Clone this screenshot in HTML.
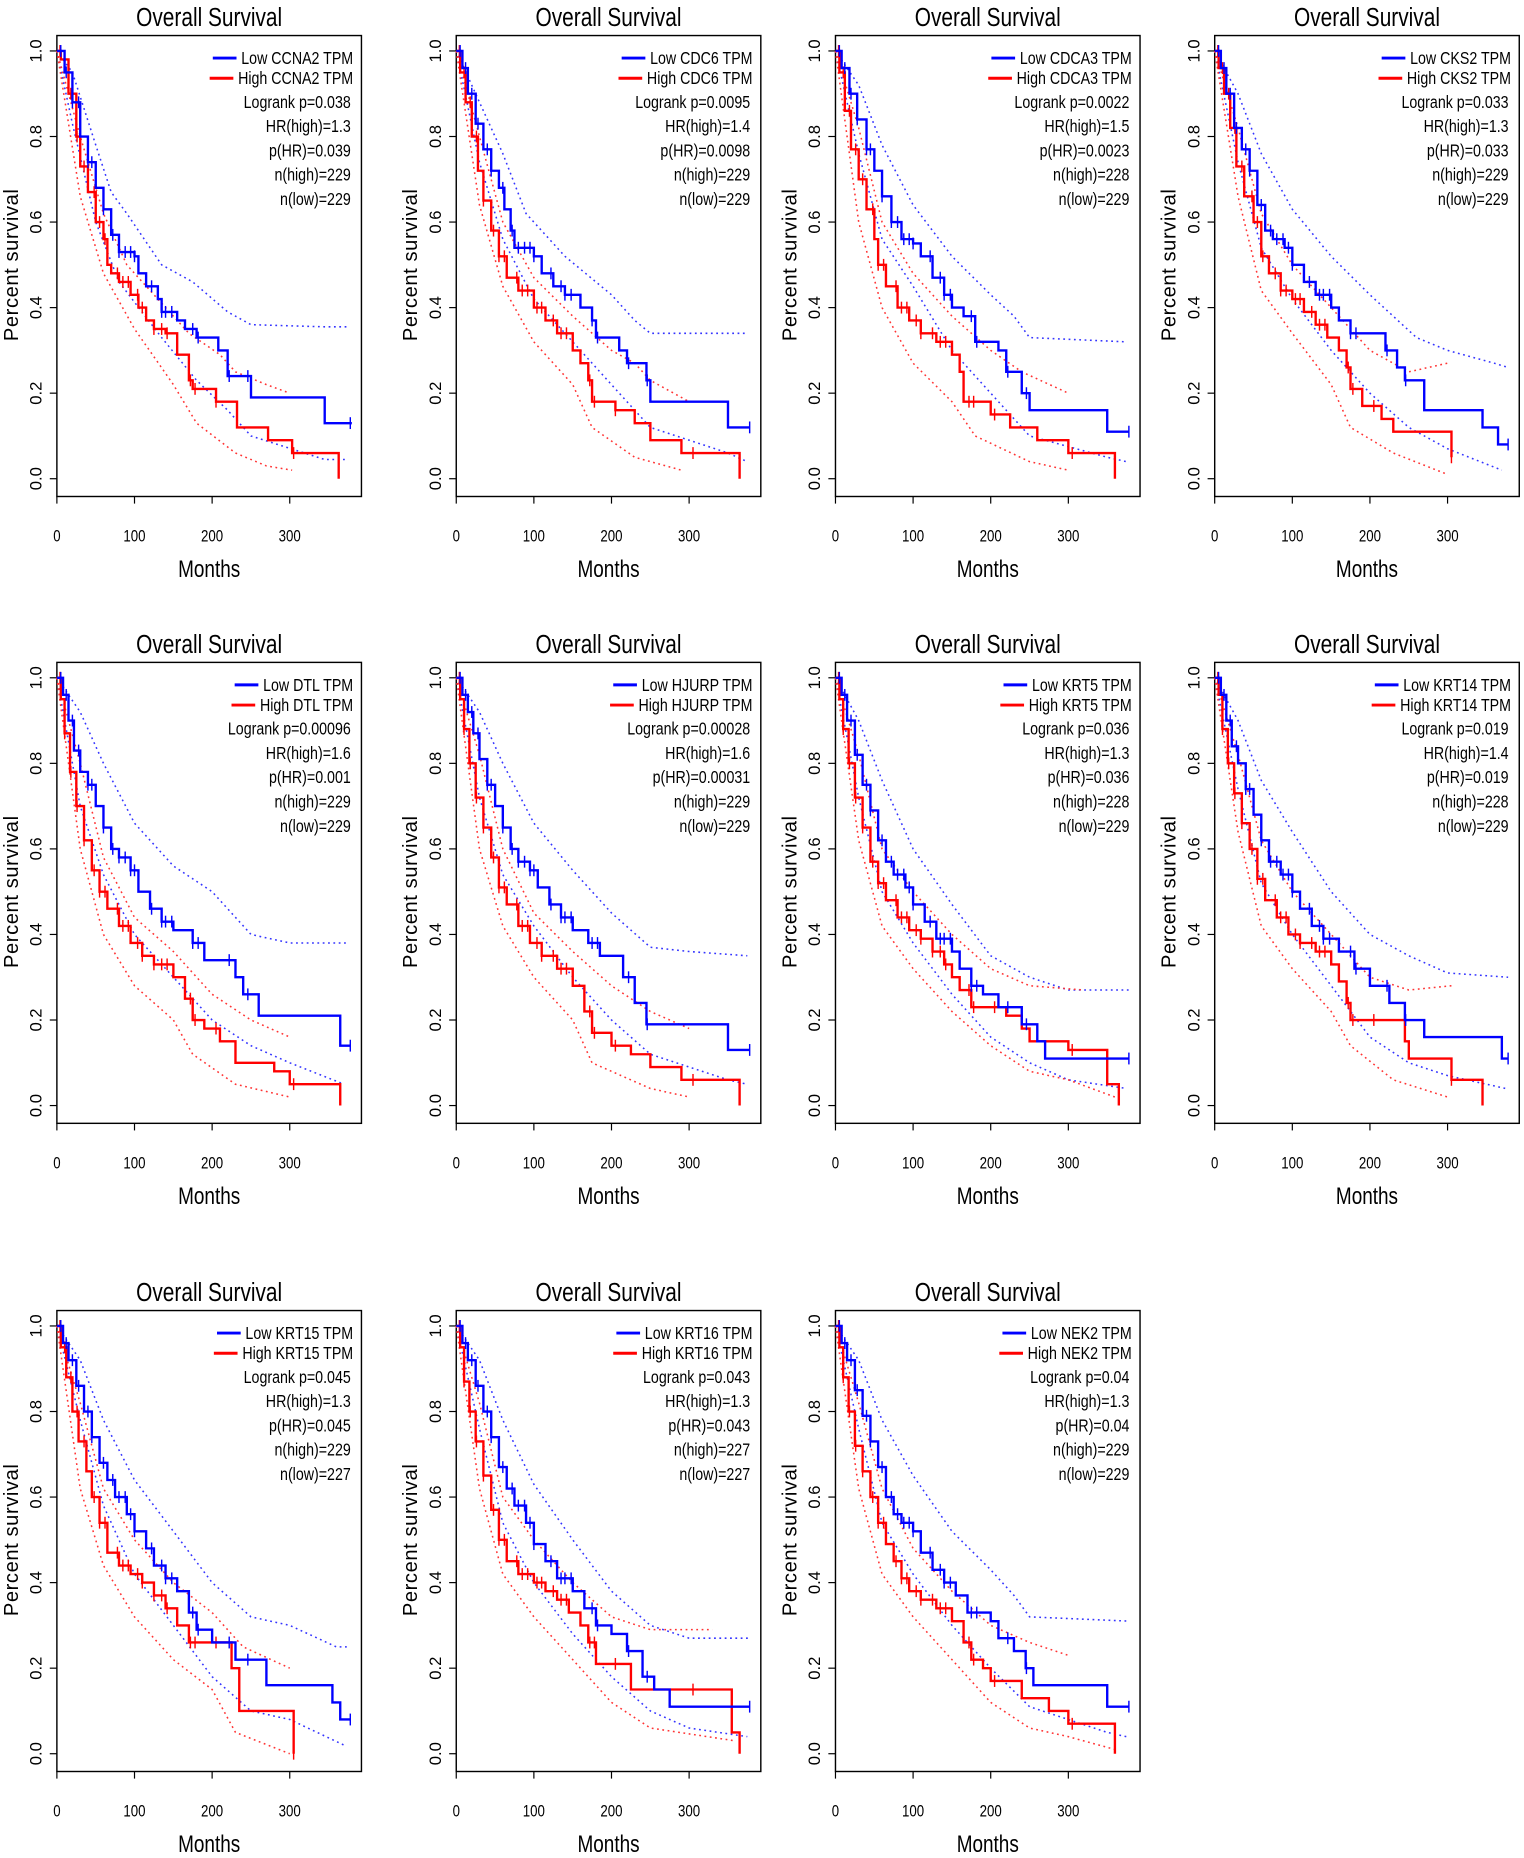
<!DOCTYPE html>
<html><head><meta charset="utf-8">
<style>
html,body{margin:0;padding:0;background:#fff;}
svg{display:block;}
text{font-family:"Liberation Sans Narrow","Liberation Sans",sans-serif;fill:#000;}
</style></head>
<body>
<svg id="fig" width="1524" height="1858" viewBox="0 0 1286 1568" preserveAspectRatio="none" xmlns="http://www.w3.org/2000/svg"></svg>
<script>
// ---- data ----
const genes = ["CCNA2","CDC6","CDCA3","CKS2","DTL","HJURP","KRT5","KRT14","KRT15","KRT16","NEK2"];
const logrankP = ["0.038","0.0095","0.0022","0.033","0.00096","0.00028","0.036","0.019","0.045","0.043","0.04"];
const hrHigh = ["1.3","1.4","1.5","1.3","1.6","1.6","1.3","1.4","1.3","1.3","1.3"];
const pHR = ["0.039","0.0098","0.0023","0.033","0.001","0.00031","0.036","0.019","0.045","0.043","0.04"];
const nHigh = ["229","229","228","229","229","229","228","228","229","227","229"];
const nLow = ["229","229","229","229","229","229","229","229","227","227","229"];
const xTicks = [0,100,200,300];
const yTicks = [0,0.2,0.4,0.6,0.8,1.0];
const censorLow = [5,12,20,28,40,45,60,72,80,88,95,100,122,135,140,148,175,182,222,246,378];
const censorHigh = [4,10,18,26,35,48,55,62,78,85,92,104,110,125,135,142,172,178,205,305];

const lowCurves = [
[[0,1],[10,0.95],[20,0.88],[30,0.8],[40,0.74],[50,0.68],[60,0.63],[70,0.57],[80,0.53],[100,0.52],[105,0.48],[115,0.45],[130,0.42],[135,0.39],[155,0.37],[165,0.35],[180,0.33],[208,0.3],[220,0.24],[250,0.19],[345,0.13],[380,0.13]],
[[0,1],[8,0.96],[15,0.9],[25,0.83],[35,0.77],[45,0.72],[55,0.68],[62,0.63],[70,0.58],[75,0.54],[100,0.52],[110,0.48],[125,0.45],[140,0.43],[160,0.4],[175,0.37],[180,0.33],[210,0.3],[220,0.27],[245,0.23],[250,0.18],[350,0.12],[378,0.12]],
[[0,1],[8,0.96],[18,0.9],[28,0.84],[40,0.77],[50,0.72],[60,0.66],[72,0.6],[85,0.56],[100,0.55],[110,0.52],[125,0.47],[140,0.43],[150,0.4],[165,0.38],[180,0.32],[210,0.3],[220,0.25],[240,0.2],[250,0.16],[350,0.11],[378,0.11]],
[[0,1],[8,0.96],[15,0.9],[25,0.82],[35,0.77],[45,0.72],[55,0.64],[65,0.58],[75,0.56],[90,0.54],[100,0.5],[115,0.46],[130,0.43],[150,0.4],[160,0.37],[175,0.34],[220,0.3],[235,0.26],[245,0.23],[270,0.16],[345,0.12],[365,0.08],[378,0.08]],
[[0,1],[8,0.96],[15,0.9],[22,0.83],[30,0.78],[40,0.75],[50,0.7],[60,0.65],[70,0.6],[80,0.58],[95,0.55],[105,0.5],[120,0.46],[135,0.43],[150,0.41],[175,0.38],[190,0.34],[230,0.3],[240,0.26],[260,0.21],[365,0.14],[378,0.14]],
[[0,1],[8,0.96],[15,0.92],[22,0.87],[30,0.81],[40,0.75],[50,0.7],[60,0.65],[70,0.6],[80,0.57],[95,0.55],[105,0.51],[120,0.47],[135,0.44],[150,0.41],[170,0.38],[185,0.35],[215,0.3],[230,0.24],[245,0.19],[350,0.13],[378,0.13]],
[[0,1],[8,0.96],[15,0.9],[25,0.82],[35,0.75],[45,0.69],[55,0.62],[65,0.57],[75,0.54],[90,0.51],[100,0.47],[115,0.43],[130,0.39],[150,0.36],[160,0.32],[175,0.28],[190,0.26],[210,0.23],[240,0.19],[260,0.15],[270,0.11],[378,0.11]],
[[0,1],[8,0.96],[15,0.9],[22,0.84],[30,0.8],[40,0.74],[50,0.68],[60,0.62],[70,0.57],[85,0.54],[100,0.5],[110,0.46],[125,0.42],[140,0.39],[160,0.36],[180,0.32],[200,0.28],[225,0.24],[245,0.2],[270,0.16],[370,0.11],[378,0.11]],
[[0,1],[8,0.96],[15,0.92],[25,0.86],[35,0.8],[45,0.74],[55,0.68],[65,0.64],[75,0.6],[90,0.56],[100,0.52],[115,0.48],[125,0.44],[140,0.41],[155,0.38],[170,0.33],[180,0.29],[200,0.26],[230,0.22],[270,0.16],[355,0.12],[365,0.08],[378,0.08]],
[[0,1],[8,0.96],[15,0.92],[25,0.86],[35,0.8],[45,0.74],[55,0.67],[65,0.62],[75,0.58],[90,0.54],[100,0.49],[115,0.45],[130,0.41],[150,0.38],[165,0.34],[180,0.3],[200,0.28],[220,0.24],[240,0.18],[255,0.15],[275,0.11],[378,0.11]],
[[0,1],[8,0.96],[15,0.92],[25,0.85],[35,0.79],[45,0.73],[55,0.67],[65,0.6],[75,0.56],[85,0.54],[100,0.52],[110,0.47],[125,0.43],[140,0.4],[155,0.37],[170,0.33],[200,0.31],[210,0.27],[230,0.24],[245,0.2],[255,0.16],[350,0.11],[378,0.11]]
];
const highCurves = [
[[0,1],[5,0.98],[15,0.9],[25,0.8],[30,0.73],[40,0.67],[50,0.6],[60,0.56],[65,0.5],[70,0.48],[80,0.46],[95,0.43],[105,0.4],[115,0.37],[125,0.35],[140,0.34],[155,0.29],[170,0.23],[175,0.21],[205,0.18],[232,0.12],[272,0.09],[303,0.06],[363,0]],
[[0,1],[5,0.95],[12,0.88],[20,0.8],[28,0.72],[35,0.65],[45,0.58],[55,0.52],[65,0.47],[80,0.44],[100,0.4],[115,0.37],[130,0.34],[150,0.3],[160,0.27],[170,0.23],[175,0.18],[205,0.16],[230,0.13],[250,0.09],[290,0.06],[365,0]],
[[0,1],[5,0.95],[12,0.86],[20,0.77],[30,0.7],[40,0.63],[50,0.56],[55,0.5],[65,0.45],[80,0.4],[95,0.37],[110,0.34],[130,0.32],[150,0.29],[160,0.25],[165,0.18],[200,0.15],[225,0.12],[260,0.09],[300,0.06],[360,0]],
[[0,1],[5,0.96],[12,0.9],[20,0.82],[28,0.73],[38,0.66],[50,0.6],[60,0.52],[70,0.48],[85,0.44],[100,0.42],[115,0.39],[130,0.36],[145,0.33],[160,0.3],[170,0.26],[175,0.21],[190,0.17],[215,0.14],[230,0.11],[305,0.05]],
[[0,1],[5,0.95],[10,0.87],[17,0.78],[25,0.7],[35,0.62],[45,0.55],[55,0.5],[65,0.46],[80,0.42],[95,0.38],[110,0.35],[125,0.33],[150,0.3],[165,0.25],[175,0.2],[190,0.18],[210,0.15],[230,0.1],[280,0.08],[300,0.05],[365,0]],
[[0,1],[5,0.95],[10,0.88],[17,0.8],[25,0.72],[35,0.65],[45,0.58],[55,0.51],[65,0.47],[80,0.42],[95,0.38],[110,0.35],[130,0.32],[150,0.28],[165,0.22],[175,0.17],[200,0.14],[225,0.12],[250,0.09],[290,0.06],[365,0]],
[[0,1],[5,0.95],[10,0.88],[17,0.8],[25,0.72],[35,0.65],[45,0.57],[55,0.52],[65,0.48],[80,0.44],[95,0.41],[110,0.39],[125,0.36],[140,0.33],[150,0.3],[160,0.27],[175,0.23],[220,0.21],[240,0.18],[250,0.15],[300,0.13],[350,0.05],[365,0]],
[[0,1],[5,0.96],[10,0.88],[17,0.8],[25,0.73],[35,0.66],[45,0.6],[55,0.53],[65,0.48],[80,0.44],[95,0.4],[110,0.38],[130,0.36],[150,0.33],[160,0.29],[170,0.24],[175,0.2],[245,0.15],[250,0.11],[305,0.06],[345,0]],
[[0,1],[5,0.95],[12,0.88],[20,0.8],[28,0.73],[38,0.66],[45,0.6],[55,0.54],[65,0.47],[80,0.44],[95,0.42],[110,0.4],[125,0.37],[140,0.34],[155,0.3],[170,0.26],[210,0.26],[225,0.2],[235,0.1],[305,0]],
[[0,1],[5,0.95],[10,0.87],[17,0.8],[25,0.73],[35,0.65],[45,0.57],[55,0.5],[65,0.45],[80,0.42],[100,0.4],[115,0.38],[130,0.36],[145,0.33],[160,0.3],[170,0.26],[180,0.21],[225,0.15],[300,0.15],[355,0.05],[365,0]],
[[0,1],[5,0.95],[10,0.88],[17,0.8],[25,0.72],[35,0.66],[45,0.6],[55,0.54],[65,0.49],[75,0.45],[85,0.41],[95,0.38],[110,0.36],[130,0.34],[150,0.31],[165,0.26],[175,0.22],[190,0.2],[200,0.17],[240,0.13],[275,0.1],[300,0.07],[360,0]]
];
const lowUpper = [
[[0,1],[20,0.95],[50,0.78],[70,0.67],[90,0.62],[105,0.58],[135,0.5],[175,0.46],[220,0.39],[250,0.36],[345,0.355],[375,0.355]],
[[0,1],[30,0.88],[60,0.76],[90,0.62],[140,0.52],[200,0.43],[230,0.37],[250,0.34],[375,0.34]],
[[0,1],[30,0.92],[60,0.78],[100,0.64],[150,0.52],[200,0.43],[230,0.38],[250,0.33],[375,0.32]],
[[0,1],[30,0.9],[60,0.76],[100,0.63],[150,0.52],[200,0.43],[260,0.33],[300,0.3],[360,0.27],[378,0.26]],
[[0,1],[30,0.92],[60,0.8],[100,0.66],[150,0.56],[200,0.5],[250,0.4],[300,0.38],[375,0.38]],
[[0,1],[30,0.92],[60,0.8],[100,0.66],[150,0.55],[200,0.45],[250,0.37],[300,0.36],[375,0.35]],
[[0,1],[30,0.9],[60,0.76],[100,0.6],[150,0.47],[200,0.35],[250,0.3],[300,0.27],[378,0.27]],
[[0,1],[30,0.9],[60,0.76],[100,0.64],[150,0.5],[200,0.4],[250,0.35],[300,0.31],[378,0.3]],
[[0,1],[30,0.92],[60,0.78],[100,0.64],[150,0.52],[200,0.4],[250,0.32],[300,0.3],[360,0.25],[375,0.25]],
[[0,1],[30,0.92],[60,0.78],[100,0.63],[150,0.5],[200,0.38],[250,0.3],[300,0.27],[378,0.27]],
[[0,1],[30,0.92],[60,0.78],[100,0.65],[150,0.52],[200,0.43],[230,0.37],[250,0.32],[378,0.31]]
];
const lowLower = [
[[0,1],[20,0.83],[50,0.6],[80,0.46],[135,0.33],[180,0.23],[220,0.16],[250,0.1],[345,0.045],[375,0.045]],
[[0,1],[30,0.74],[60,0.56],[100,0.42],[150,0.32],[200,0.22],[250,0.12],[350,0.06],[375,0.04]],
[[0,1],[30,0.76],[60,0.56],[100,0.45],[150,0.3],[200,0.2],[250,0.1],[350,0.05],[375,0.04]],
[[0,1],[30,0.74],[60,0.54],[100,0.42],[150,0.3],[200,0.2],[250,0.12],[300,0.07],[370,0.02]],
[[0,1],[30,0.7],[60,0.54],[100,0.4],[150,0.3],[200,0.2],[250,0.14],[300,0.1],[370,0.05]],
[[0,1],[30,0.72],[60,0.54],[100,0.42],[150,0.3],[200,0.2],[250,0.12],[350,0.06],[375,0.05]],
[[0,1],[30,0.72],[60,0.5],[100,0.38],[150,0.26],[200,0.16],[250,0.1],[300,0.06],[375,0.04]],
[[0,1],[30,0.74],[60,0.52],[100,0.4],[150,0.28],[200,0.16],[250,0.1],[300,0.07],[375,0.04]],
[[0,1],[30,0.78],[60,0.58],[100,0.42],[150,0.3],[200,0.18],[250,0.1],[300,0.08],[370,0.02]],
[[0,1],[30,0.76],[60,0.54],[100,0.4],[150,0.28],[200,0.18],[250,0.1],[300,0.06],[375,0.04]],
[[0,1],[30,0.76],[60,0.54],[100,0.42],[150,0.3],[200,0.2],[250,0.11],[350,0.05],[375,0.04]]
];
const highUpper = [
[[0,1],[30,0.8],[60,0.62],[90,0.5],[130,0.42],[170,0.34],[210,0.29],[230,0.25],[270,0.22],[300,0.2]],
[[0,1],[30,0.8],[60,0.6],[100,0.47],[150,0.38],[200,0.3],[230,0.27],[250,0.23],[300,0.18]],
[[0,1],[30,0.82],[60,0.6],[100,0.48],[150,0.38],[200,0.3],[240,0.25],[300,0.2]],
[[0,1],[30,0.82],[60,0.62],[100,0.5],[150,0.4],[200,0.3],[250,0.25],[300,0.27]],
[[0,1],[30,0.8],[60,0.58],[100,0.44],[150,0.36],[200,0.26],[250,0.2],[300,0.16]],
[[0,1],[30,0.82],[60,0.6],[100,0.45],[150,0.36],[200,0.28],[250,0.22],[300,0.18]],
[[0,1],[30,0.82],[60,0.6],[100,0.5],[150,0.4],[200,0.32],[250,0.28],[320,0.27]],
[[0,1],[30,0.82],[60,0.62],[100,0.5],[150,0.4],[200,0.3],[250,0.27],[305,0.28]],
[[0,1],[30,0.82],[60,0.62],[100,0.5],[150,0.4],[200,0.33],[240,0.25],[300,0.2]],
[[0,1],[30,0.82],[60,0.6],[100,0.5],[150,0.4],[200,0.32],[250,0.29],[330,0.29]],
[[0,1],[30,0.82],[60,0.62],[100,0.48],[150,0.38],[200,0.3],[250,0.26],[300,0.23]]
];
const highLower = [
[[0,1],[30,0.66],[60,0.48],[100,0.35],[150,0.22],[180,0.13],[230,0.06],[270,0.03],[303,0.02]],
[[0,1],[30,0.64],[60,0.45],[100,0.32],[150,0.22],[175,0.12],[230,0.05],[290,0.02]],
[[0,1],[30,0.6],[60,0.4],[100,0.27],[150,0.18],[180,0.1],[250,0.04],[300,0.02]],
[[0,1],[30,0.66],[60,0.44],[100,0.34],[150,0.22],[175,0.12],[230,0.06],[300,0.01]],
[[0,1],[30,0.6],[60,0.4],[100,0.28],[150,0.2],[175,0.12],[230,0.05],[300,0.02]],
[[0,1],[30,0.6],[60,0.42],[100,0.3],[150,0.2],[175,0.1],[250,0.04],[300,0.02]],
[[0,1],[30,0.62],[60,0.42],[100,0.32],[150,0.22],[200,0.14],[250,0.08],[300,0.06],[360,0.02]],
[[0,1],[30,0.64],[60,0.42],[100,0.32],[150,0.22],[175,0.14],[230,0.06],[300,0.02]],
[[0,1],[30,0.62],[60,0.44],[100,0.32],[150,0.22],[200,0.15],[230,0.05],[300,0]],
[[0,1],[30,0.62],[60,0.42],[100,0.32],[150,0.22],[200,0.12],[250,0.06],[360,0.03]],
[[0,1],[30,0.62],[60,0.42],[100,0.32],[150,0.22],[200,0.12],[250,0.06],[300,0.04],[360,0.01]]
];

// ---- layout ----
const NS = "http://www.w3.org/2000/svg";
const svg = document.getElementById("fig");
const colX = [48,385,705,1025];
const rowY = [30,559,1106];
const BW = 257, BH = 389, PXM = 0.655, NARROW = 0.8;

function mk(tag, attrs, parent){
  const e = document.createElementNS(NS, tag);
  for (const k in attrs) e.setAttribute(k, attrs[k]);
  (parent||svg).appendChild(e);
  return e;
}
function narrow(t){
  const w = t.getComputedTextLength();
  t.setAttribute("textLength", (w*NARROW).toFixed(1));
  t.setAttribute("lengthAdjust", "spacingAndGlyphs");
  return w*NARROW;
}
function stepPath(pts, sx, sy){
  let d = "M"+sx(pts[0][0])+","+sy(pts[0][1]);
  for (let i=1;i<pts.length;i++){
    d += " H"+sx(pts[i][0]).toFixed(1)+" V"+sy(pts[i][1]).toFixed(1);
  }
  return d;
}
function linePath(pts, sx, sy){
  return pts.map((p,i)=>(i?"L":"M")+sx(p[0]).toFixed(1)+","+sy(p[1]).toFixed(1)).join(" ");
}
function valueAt(pts, t){
  let v = pts[0][1];
  for (const p of pts){ if (p[0] <= t) v = p[1]; }
  return v;
}

genes.forEach((g, i) => {
  const x0 = colX[i%4], top = rowY[Math.floor(i/4)];
  const sx = m => x0 + m*PXM;
  const sy = s => top + 13 + (1-s)*361;
  const grp = mk("g", {});
  
  

  const title = mk("text", {x: x0+BW/2, y: top-8, "font-size": 22, "text-anchor":"middle"}, grp);
  title.textContent = "Overall Survival";
  
  
  narrow(title);

  const box = mk("rect", {x:x0, y:top, width:BW, height:BH, fill:"none", stroke:"#000", "stroke-width":1.2}, grp);
  
  

  xTicks.forEach(t => {
    const tk = mk("line", {x1:sx(t), x2:sx(t), y1:top+BH, y2:top+BH+6, stroke:"#000"}, grp);
    
    
    const tl = mk("text", {x:sx(t), y:top+427, "font-size":14, "text-anchor":"middle"}, grp);
    tl.textContent = t;
    
    
    narrow(tl);
  });
  const xl = mk("text", {x:x0+BW/2, y:top+457, "font-size":20, "text-anchor":"middle"}, grp);
  xl.textContent = "Months";
  
  
  narrow(xl);

  yTicks.forEach(t => {
    const tk = mk("line", {x1:x0-6, x2:x0, y1:sy(t), y2:sy(t), stroke:"#000"}, grp);
    
    
    const tl = mk("text", {x:x0-13, y:sy(t), "font-size":14, "text-anchor":"middle", transform:"rotate(-90 "+(x0-13)+" "+sy(t)+")"}, grp);
    tl.textContent = t.toFixed(1);
    
    
  });
  const yc = sy(0.5), yx = x0-33;
  const yl = mk("text", {x:yx, y:yc, "font-size":17, "text-anchor":"middle", "letter-spacing":"0.5", transform:"rotate(-90 "+yx+" "+yc+")"}, grp);
  yl.textContent = "Percent survival";
  
  

  const ci = [[lowUpper[i],"#3333ff","low-ci-upper"],[lowLower[i],"#3333ff","low-ci-lower"],[highUpper[i],"#ff3333","high-ci-upper"],[highLower[i],"#ff3333","high-ci-lower"]];
  ci.forEach(c => {
    const p = mk("path", {d:linePath(c[0],sx,sy), fill:"none", stroke:c[1], "stroke-width":1.3, "stroke-dasharray":"1.5 3"}, grp);
    
    
  });

  const series = [[highCurves[i],"#ff0000","high-curve",censorHigh],[lowCurves[i],"#0000ff","low-curve",censorLow]];
  series.forEach(s => {
    const p = mk("path", {d:stepPath(s[0],sx,sy), fill:"none", stroke:s[1], "stroke-width":2}, grp);
    
    
    const last = s[0][s[0].length-1][0];
    s[3].forEach(t => {
      if (t > last) return;
      const v = valueAt(s[0], t);
      const c = mk("line", {x1:sx(t), x2:sx(t), y1:sy(v)-5, y2:sy(v)+5, stroke:s[1], "stroke-width":1.2}, grp);
      
      
    });
  });

  const right = x0+BW-7;
  const lg = [["Low "+g+" TPM","#0000ff",top+19],["High "+g+" TPM","#ff0000",top+36]];
  lg.forEach((l,k) => {
    const t = mk("text", {x:right, y:l[2]+5, "font-size":15, "text-anchor":"end"}, grp);
    t.textContent = l[0];
    
    
    const w = narrow(t);
    const ln = mk("line", {x1:right-w-24, x2:right-w-4, y1:l[2], y2:l[2], stroke:l[1], "stroke-width":2.5}, grp);
    
    
  });
  const stats = ["Logrank p="+logrankP[i],"HR(high)="+hrHigh[i],"p(HR)="+pHR[i],"n(high)="+nHigh[i],"n(low)="+nLow[i]];
  stats.forEach((s,k) => {
    const t = mk("text", {x:right-2, y:top+61+k*20.5, "font-size":15, "text-anchor":"end"}, grp);
    t.textContent = s;
    
    
    narrow(t);
  });
});
</script>
</body></html>
